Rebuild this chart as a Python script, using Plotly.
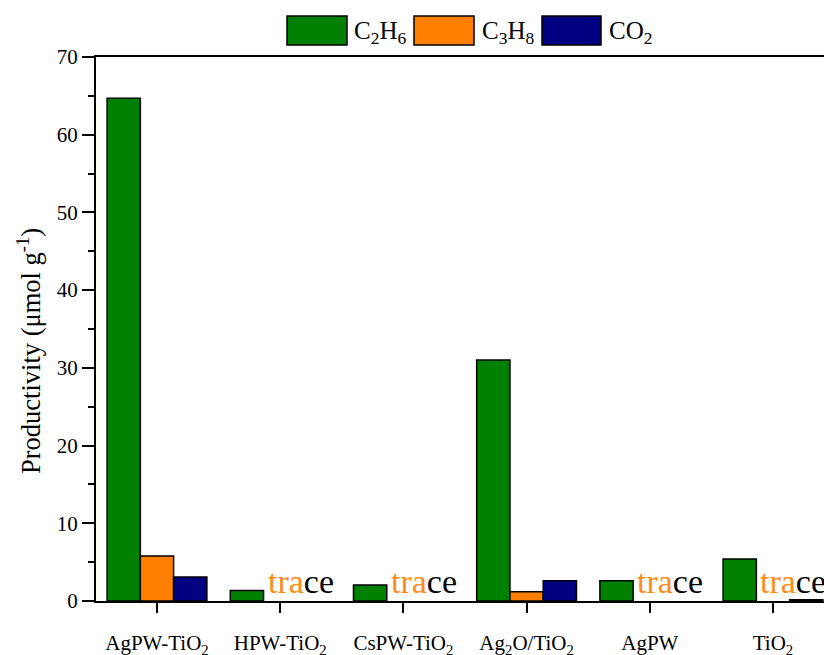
import plotly.graph_objects as go

categories = ["AgPW-TiO<sub>2</sub>", "HPW-TiO<sub>2</sub>", "CsPW-TiO<sub>2</sub>",
              "Ag<sub>2</sub>O/TiO<sub>2</sub>", "AgPW", "TiO<sub>2</sub>"]
c2h6 = [64.7, 1.35, 2.05, 31.0, 2.6, 5.4]
c3h8 = [5.8, None, None, 1.2, None, None]
co2 = [3.1, None, None, 2.6, None, 0.15]
trace_flags = [False, True, True, False, True, True]
series_names = ["C<sub>2</sub>H<sub>6</sub>", "C<sub>3</sub>H<sub>8</sub>", "CO<sub>2</sub>"]
colors = ["#008000", "#FF8000", "#000080"]
y_title = "Productivity (μmol g<sup>-1</sup>)"

FONT = "Liberation Serif"
W, H = 824, 655
ML, MR, MT, MB = 96, 0, 57, 54

xs = list(range(len(categories)))
fig = go.Figure()
for vals, name, col in zip([c2h6, c3h8, co2], series_names, colors):
    fig.add_trace(go.Bar(x=xs, y=vals, name=name, marker=dict(color=col, line=dict(color="black", width=1.5)),
                         showlegend=False))

# "trace" labels
trace_text = ("<span style='font-family:Liberation Serif;color:#FF8C1A'>tra</span>"
              "<span style='font-family:Liberation Serif;color:#000000'>ce</span>")
for i, flag in enumerate(trace_flags):
    if flag:
        fig.add_annotation(x=i + 0.165, y=0, xref="x", yref="y", yanchor="bottom", xanchor="center",
                           text=trace_text, showarrow=False,
                           font=dict(family=FONT, size=34, color="black"), yshift=-1)

pw = W - ML - MR
ph = H - MT - MB
def px2paper(x, y):
    return (x - ML) / pw, (H - MB - y) / ph

# custom legend
legend_items = [(287, 347, 352), (414, 474, 480), (542, 601, 607)]
for (x0, x1, tx), name, col in zip(legend_items, series_names, colors):
    a, b = px2paper(x0, 16)
    c, d = px2paper(x1, 45)
    fig.add_shape(type="rect", xref="paper", yref="paper", x0=a, x1=c, y0=d, y1=b,
                  fillcolor=col, line=dict(color="black", width=1.5))
    tx_p, ty_p = px2paper(tx, 33)
    fig.add_annotation(xref="paper", yref="paper", x=tx_p, y=ty_p, xanchor="left", yanchor="middle",
                       text=name, showarrow=False, font=dict(family=FONT, size=25, color="black"))

# y-axis title
tx_p, ty_p = px2paper(29, 351)
fig.add_annotation(xref="paper", yref="paper", x=tx_p, y=ty_p, xanchor="center", yanchor="middle",
                   text=y_title, textangle=-90, showarrow=False,
                   font=dict(family=FONT, size=26.5, color="black"))

fig.update_layout(
    width=W, height=H, margin=dict(l=ML, r=MR, t=MT, b=MB, pad=0, autoexpand=False),
    plot_bgcolor="white", paper_bgcolor="white",
    barmode="group", bargap=0.19, bargroupgap=0,
    font=dict(family=FONT, size=20, color="black"),
    showlegend=False,
)
fig.update_xaxes(range=[-0.495, 5.414], tickmode="array", tickvals=xs, ticktext=categories,
                 showline=True, linecolor="black", linewidth=2, mirror=True, automargin=False,
                 ticks="outside", ticklen=10, tickwidth=2, tickcolor="black",
                 ticklabelstandoff=12, showgrid=False, zeroline=False,
                 tickfont=dict(family=FONT, size=21, color="black"))
fig.update_yaxes(range=[0, 70], dtick=10, tick0=0, showline=True, linecolor="black", linewidth=2,
                 ticks="outside", ticklen=12, tickwidth=2, tickcolor="black", automargin=False,
                 minor=dict(dtick=5, ticks="outside", ticklen=6, tickwidth=2, tickcolor="black", showgrid=False),
                 showgrid=False, zeroline=False,
                 tickfont=dict(family=FONT, size=21, color="black"))

fig.write_html("out.html", config={"displayModeBar": False},
               post_script="document.body.style.margin='0';document.body.style.overflow='hidden';")
